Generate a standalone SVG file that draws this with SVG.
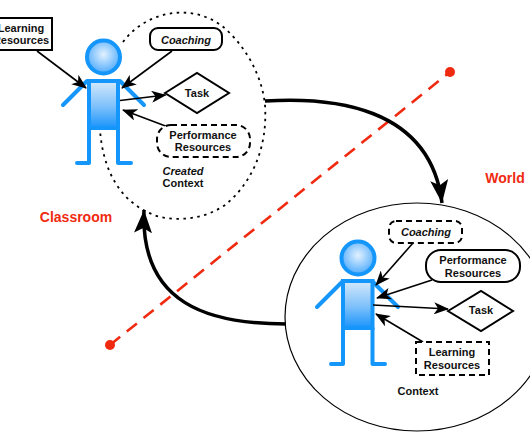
<svg xmlns="http://www.w3.org/2000/svg" width="530" height="442" viewBox="0 0 530 442">
<defs>
<radialGradient id="hg" cx="0.5" cy="0.42" r="0.55"><stop offset="0" stop-color="#e2f1ff"/><stop offset="1" stop-color="#55aefc"/></radialGradient>
<linearGradient id="bg" x1="0" y1="0" x2="0" y2="1"><stop offset="0" stop-color="#d5e9fb"/><stop offset="0.55" stop-color="#7cc0fb"/><stop offset="1" stop-color="#1a94fb"/></linearGradient>
<marker id="a" markerWidth="16" markerHeight="12" refX="14" refY="6" orient="auto" markerUnits="userSpaceOnUse"><path d="M0 0L15 6L0 12L4 6Z" fill="#000"/></marker>
<marker id="b" markerWidth="24" markerHeight="20" refX="23" refY="10" orient="auto" markerUnits="userSpaceOnUse"><path d="M0 1L23 10L0 19L5 10Z" fill="#000"/></marker>
</defs>
<style>
text{font-family:"Liberation Sans",Arial,sans-serif;font-size:11px;font-weight:700;fill:#111;text-anchor:middle}
.i{font-style:italic}
.r{fill:#f02a10;font-size:14px}
.n{fill:#fff;stroke:#000;stroke-width:2}
.d{stroke-dasharray:6 4}
.f{fill:none;stroke:#1496fb;stroke-width:4;stroke-linecap:round;stroke-linejoin:round}
.c{fill:none;stroke:#000;stroke-width:1.6;marker-end:url(#a)}
.k{fill:none;stroke:#000;stroke-width:3.5;marker-end:url(#b)}
</style>
<g id="created-context"><path d="M123 42C145 12 190 2 222 26C245 45 262 75 265 105C268 150 250 185 225 205C205 219 180 221 160 217C120 205 103 170 100 130" fill="none" stroke="#000" stroke-width="1.8" stroke-dasharray="2.5 4.5"/></g>
<g id="context"><ellipse cx="417" cy="317" rx="132" ry="114" fill="#fff" stroke="#000" stroke-width="1.2"/></g>
<g id="divider"><path d="M110 345L450 72" fill="none" stroke="#f02a10" stroke-width="2.6" stroke-dasharray="13 8.500"/><circle cx="110" cy="345" r="5" fill="#f02a10"/><circle cx="450" cy="72" r="5" fill="#f02a10"/></g>
<g id="figure-classroom">
<path class="f" d="M63 105L87 81M120 81L144 105M89 127V163H77M118 127V163H131"/>
<rect x="89" y="81" width="29" height="47" fill="url(#bg)" stroke="#1496fb" stroke-width="4"/>
<circle cx="103.500" cy="57" r="16.500" fill="url(#hg)" stroke="#1496fb" stroke-width="4"/>
</g>
<g id="figure-world">
<path class="f" d="M317 307L343 281M372 281L398 307M343 328V364H331M372.500 328V364H385"/>
<rect x="343" y="281" width="29.500" height="47" fill="url(#bg)" stroke="#1496fb" stroke-width="4"/>
<circle cx="358" cy="258" r="16.500" fill="url(#hg)" stroke="#1496fb" stroke-width="4"/>
</g>
<g id="connectors">
<path class="c" d="M37 51L86 88"/>
<path class="c" d="M172 51L122 88"/>
<path class="c" d="M120 100.500L165.500 95"/>
<path class="c" d="M165.500 126L123 110"/>
<path class="c" d="M413 243L376 285"/>
<path class="c" d="M432 280L377 298"/>
<path class="c" d="M373 305L448 309"/>
<path class="c" d="M423 342L376 314"/>
<path class="k" d="M265 101C330 97 430 105 442 203"/>
<path class="k" d="M286 324C210 324 140 305 144 210"/>
</g>
<g id="learning-classroom"><rect x="-12" y="18" width="64" height="32" class="n"/><text x="21" y="32">Learning</text><text x="21" y="44">Resources</text></g>
<g id="coaching-classroom"><rect x="150" y="28" width="72" height="22" rx="8" class="n"/><text class="i" x="186" y="43.500">Coaching</text></g>
<g id="task-classroom"><path d="M165 93L197 73L229 93L197 113Z" class="n"/><text x="197" y="97">Task</text></g>
<g id="performance-classroom"><rect x="157" y="125" width="93" height="32" rx="14" class="n d"/><text x="203" y="138.500">Performance</text><text x="203" y="150.500">Resources</text></g>
<text id="created-label-1" class="i" x="183" y="175">Created</text>
<text id="created-label-2" x="183" y="187">Context</text>
<text id="classroom" class="r" x="76" y="222">Classroom</text>
<text id="world" class="r" x="505" y="183">World</text>
<g id="coaching-world"><rect x="389" y="221" width="73" height="22" rx="7" class="n d"/><text class="i" x="426" y="235.500">Coaching</text></g>
<g id="performance-world"><rect x="426" y="250" width="94" height="32" rx="15" class="n"/><text x="473" y="264">Performance</text><text x="473" y="276.500">Resources</text></g>
<g id="task-world"><path d="M448 311L481 291L513 311L481 331Z" class="n"/><text x="481" y="314">Task</text></g>
<g id="learning-world"><rect x="416" y="342" width="73" height="33" class="n d"/><text x="452" y="356">Learning</text><text x="452" y="369">Resources</text></g>
<text id="context-label" x="418" y="395">Context</text>
</svg>
